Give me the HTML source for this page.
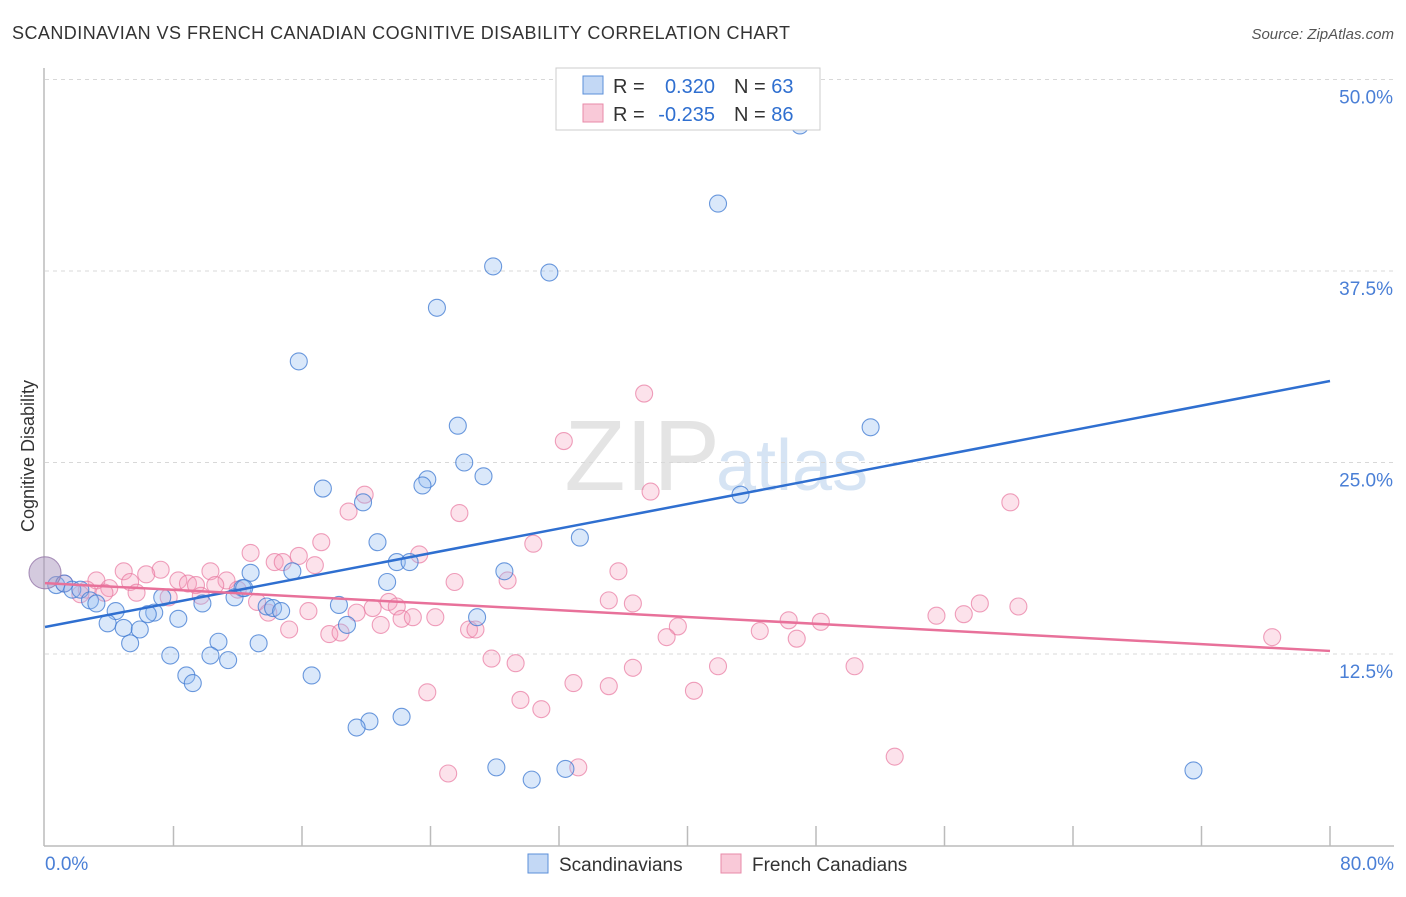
<!DOCTYPE html>
<html><head><meta charset="utf-8"><style>
body{margin:0;background:#fff;font-family:"Liberation Sans",sans-serif}
svg text{font-family:"Liberation Sans",sans-serif}
</style></head><body>
<svg id="chart" width="1406" height="892">
<text x="12" y="39" font-size="18" fill="#333" textLength="778">SCANDINAVIAN VS FRENCH CANADIAN COGNITIVE DISABILITY CORRELATION CHART</text>
<text x="1394" y="39" font-size="15" fill="#555" font-style="italic" text-anchor="end">Source: ZipAtlas.com</text>
<text x="720" y="490" font-size="100" fill="#e4e4e4" text-anchor="end" font-family="Liberation Serif">ZIP</text>
<text x="716" y="490" font-size="72" fill="#d6e4f4">atlas</text>
<g id="grid"></g>
<line x1="44" y1="68" x2="44" y2="846" stroke="#bbb" stroke-width="1.5"/>
<line x1="44" y1="846" x2="1394" y2="846" stroke="#bbb" stroke-width="1.5"/>
<text transform="translate(34,456) rotate(-90)" font-size="18" fill="#333" text-anchor="middle">Cognitive Disability</text>
<text x="45" y="870" font-size="19" fill="#4a7fd6">0.0%</text>
<text x="1394" y="870" font-size="19" fill="#4a7fd6" text-anchor="end">80.0%</text>
<g id="pts"></g>
<g id="lines"></g>
<g>
<rect x="556" y="68" width="264" height="62" fill="#fff" stroke="#ccc"/>
<rect x="583" y="76" width="20" height="18" fill="#c3d8f5" stroke="#5b8fd9"/>
<rect x="583" y="104" width="20" height="18" fill="#f9c9d8" stroke="#e88aa8"/>
<text x="613" y="93" font-size="20" fill="#333">R =</text>
<text x="715" y="93" font-size="20" fill="#2f6fd0" text-anchor="end">0.320</text>
<text x="734" y="93" font-size="20" fill="#333">N = <tspan fill="#2f6fd0">63</tspan></text>
<text x="613" y="121" font-size="20" fill="#333">R =</text>
<text x="715" y="121" font-size="20" fill="#2f6fd0" text-anchor="end">-0.235</text>
<text x="734" y="121" font-size="20" fill="#333">N = <tspan fill="#2f6fd0">86</tspan></text>
</g>
<g>
<rect x="528" y="854" width="20" height="19" fill="#c3d8f5" stroke="#5b8fd9"/>
<text x="559" y="871" font-size="19" fill="#333">Scandinavians</text>
<rect x="721" y="854" width="20" height="19" fill="#f9c9d8" stroke="#e88aa8"/>
<text x="752" y="871" font-size="19" fill="#333">French Canadians</text>
</g>
</svg>
<script>
const yTicks=[12.5,25,37.5,50];
const yTickLabels=["12.5%","25.0%","37.5%","50.0%"];
const xTicks=[8,16,24,32,40,48,56,64,72,80];
const blueX=[47.0,41.9,27.9,31.4,24.4,15.8,51.4,25.7,26.1,27.3,23.8,23.5,17.3,19.8,43.3,20.7,33.3,21.9,22.7,28.6,12.8,15.4,21.3,12.3,0.7,1.2,1.7,2.2,2.8,3.2,4.4,3.9,4.9,5.9,5.3,6.8,6.4,7.3,8.3,9.8,11.8,12.4,10.8,13.3,7.8,10.3,11.4,8.8,9.2,16.6,13.8,14.2,14.7,18.3,18.8,26.9,20.2,19.4,22.2,28.1,30.3,32.4,71.5];
const blueY=[47.0,41.9,37.8,37.4,35.1,31.6,27.3,27.4,25.0,24.1,23.9,23.5,23.3,22.4,22.9,19.8,20.1,18.5,18.5,17.9,17.8,17.9,17.2,16.8,17.0,17.1,16.7,16.7,16.0,15.8,15.3,14.5,14.2,14.1,13.2,15.2,15.1,16.2,14.8,15.8,16.2,16.8,13.3,13.2,12.4,12.4,12.1,11.1,10.6,11.1,15.6,15.5,15.3,15.7,14.4,14.9,8.1,7.7,8.4,5.1,4.3,5.0,4.9];
const pinkX=[37.3,32.3,37.7,60.1,19.9,18.9,25.8,17.2,30.4,12.8,23.3,14.3,14.8,15.8,16.8,35.7,4.9,7.2,6.3,8.3,8.9,10.3,11.3,12.0,25.5,28.8,3.2,1.2,4.0,5.3,2.6,2.2,3.7,5.7,9.4,10.6,7.7,9.7,13.2,13.9,16.4,19.4,20.4,21.4,21.9,22.2,22.9,24.3,35.1,36.6,58.2,60.6,55.5,57.2,46.3,48.3,44.5,39.4,38.7,15.2,17.7,18.4,20.9,26.4,26.8,46.8,76.4,27.8,29.3,36.6,41.9,50.4,32.9,35.1,40.4,23.8,29.6,30.9,33.2,25.1,52.9];
const pinkY=[29.5,26.4,23.1,22.4,22.9,21.8,21.7,19.8,19.7,19.1,19.0,18.5,18.5,18.9,18.3,17.9,17.9,18.0,17.7,17.3,17.1,17.9,17.3,16.7,17.2,17.3,17.3,17.1,16.8,17.2,16.7,16.4,16.5,16.5,17.0,17.0,16.2,16.3,15.9,15.2,15.3,15.2,15.5,15.9,15.6,14.8,14.9,14.9,16.0,15.8,15.8,15.6,15.0,15.1,14.7,14.6,14.0,14.3,13.6,14.1,13.8,13.9,14.4,14.1,14.1,13.5,13.6,12.2,11.9,11.6,11.7,11.7,10.6,10.4,10.1,10.0,9.5,8.9,5.1,4.7,5.8];
const blueLine=[14.26,30.32];
const pinkLine=[17.13,12.7];
const NS="http://www.w3.org/2000/svg";
const X=v=>45+v/80*1285, Y=v=>845.5-v/12.5*191.5;
const grid=document.getElementById('grid');
yTicks.forEach((t,i)=>{
 const l=document.createElementNS(NS,'line');
 l.setAttribute('x1',45);l.setAttribute('x2',1394);l.setAttribute('y1',Y(t));l.setAttribute('y2',Y(t));
 l.setAttribute('stroke','#d8d8d8');l.setAttribute('stroke-dasharray','4,4');
 
 
 grid.appendChild(l);
 const tx=document.createElementNS(NS,'text');
 tx.setAttribute('x',1393);tx.setAttribute('y',Y(t)+24);tx.setAttribute('text-anchor','end');
 tx.setAttribute('font-size','19');tx.setAttribute('fill','#4a7fd6');tx.textContent=yTickLabels[i];
 
 
 grid.appendChild(tx);
});
xTicks.forEach(t=>{
 const l=document.createElementNS(NS,'line');
 l.setAttribute('x1',X(t));l.setAttribute('x2',X(t));l.setAttribute('y1',826);l.setAttribute('y2',846);
 l.setAttribute('stroke','#bbb');l.setAttribute('stroke-width','1.5');
 
 
 grid.appendChild(l);
});
const pts=document.getElementById('pts');
function dot(x,y,r,fill,stroke,name){
 const c=document.createElementNS(NS,'circle');
 c.setAttribute('cx',X(x));c.setAttribute('cy',Y(y));c.setAttribute('r',r);
 c.setAttribute('fill',fill);c.setAttribute('stroke',stroke);c.setAttribute('stroke-width','1.1');
 
 
 pts.appendChild(c);
}
pinkX.forEach((x,i)=>dot(x,pinkY[i],8.5,'rgba(244,160,188,0.3)','rgba(232,120,160,0.7)','point-french-canadian'));
blueX.forEach((x,i)=>dot(x,blueY[i],8.5,'rgba(150,190,240,0.35)','rgba(60,120,210,0.75)','point-scandinavian'));
dot(0,17.8,16,'rgba(170,150,190,0.5)','rgba(150,120,170,0.8)','point-large-cluster');
const lines=document.getElementById('lines');
function ln(v,col,name){
 const l=document.createElementNS(NS,'line');
 l.setAttribute('x1',X(0));l.setAttribute('x2',X(80));l.setAttribute('y1',Y(v[0]));l.setAttribute('y2',Y(v[1]));
 l.setAttribute('stroke',col);l.setAttribute('stroke-width','2.5');
 
 
 lines.appendChild(l);
}
ln(blueLine,'#2f6fd0','trendline-scandinavians');
ln(pinkLine,'#e8719a','trendline-french-canadians');
</script>
</body></html>
